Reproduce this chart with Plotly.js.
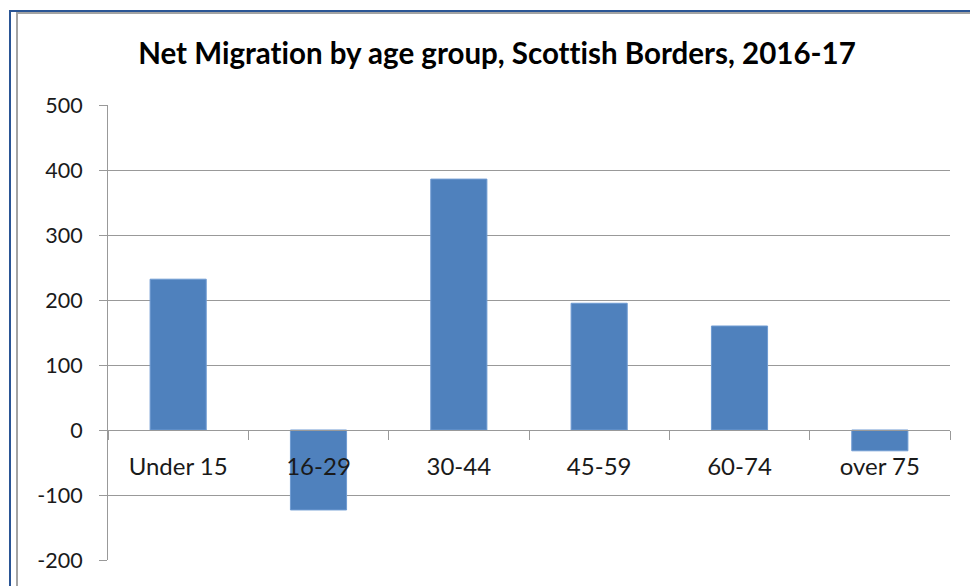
<!DOCTYPE html>
<html>
<head>
<meta charset="utf-8">
<script src="https://cdn.plot.ly/plotly-3.0.1.min.js"></script>
<style>
  html, body { margin: 0; padding: 0; background: #fff; }
  #wrap { position: relative; width: 970px; height: 586px; overflow: hidden; }
  #chart { position: absolute; left: 0; top: 0; width: 970px; height: 586px; }
  #chart svg text { font-variant-ligatures: none; font-feature-settings: "liga" 0; }
  .frame { position: absolute; pointer-events: none; }
  .blue { background: #2a5595; }
  .grey { background: #a3a3a3; }
</style>
</head>
<body>
<div id="wrap">
  <div id="chart"></div>
  <!-- window frame around the chart -->
  <div class="frame blue" style="left:9px; top:10px; width:2px; height:576px;"></div>
  <div class="frame blue" style="left:9px; top:10px; width:961px; height:2px;"></div>
  <div class="frame grey" style="left:16px; top:12px; width:2px; height:574px;"></div>
  <div class="frame grey" style="left:16px; top:12px; width:954px; height:2px;"></div>
</div>
<script>
// Net migration per age band
const ageGroups = ['Under 15', '16-29', '30-44', '45-59', '60-74', 'over 75'];
const netMigration = [232, -123, 386, 195, 160, -32];
const yTickValues = [-200, -100, 0, 100, 200, 300, 400, 500];
const yTickLabels = ['-200', '-100', '0', '100', '200', '300', '400', '500'];

const fontFace = 'Lato, "Open Sans", sans-serif';
const axisGrey = '#999999';

const trace = {
  type: 'bar',
  x: ageGroups,
  y: netMigration,
  marker: { color: '#4f81bd', line: { color: '#6f9bd2', width: 1 } },
  hoverinfo: 'x+y'
};

const layout = {
  width: 970,
  height: 586,
  margin: { l: 108, r: 20, t: 105, b: 26, pad: 0 },
  paper_bgcolor: '#ffffff',
  plot_bgcolor: '#ffffff',
  showlegend: false,
  bargap: 0.6,
  font: { family: fontFace, color: '#1a1a1a', size: 21 },
  title: {
    text: 'Net Migration by age group, Scottish Borders, 2016-17',
    font: { family: fontFace, size: 29.5, color: '#000', weight: 'bold' },
    xref: 'container', x: 497 / 970, xanchor: 'center',
    yref: 'container', y: 1 - 54 / 586, yanchor: 'middle'
  },
  xaxis: {
    type: 'category',
    anchor: 'free',
    position: 200 / 700,
    showgrid: false,
    zeroline: false,
    showline: true,
    linecolor: axisGrey,
    linewidth: 1,
    ticks: 'outside',
    tickson: 'boundaries',
    ticklen: 9,
    tickcolor: axisGrey,
    tickwidth: 1,
    ticklabelstandoff: 15,
    tickfont: { family: fontFace, size: 24, color: '#1a1a1a' },
    fixedrange: true
  },
  yaxis: {
    range: [-200, 500],
    tickvals: yTickValues,
    ticktext: yTickLabels,
    showgrid: true,
    gridcolor: axisGrey,
    gridwidth: 1,
    zeroline: false,
    showline: true,
    linecolor: axisGrey,
    linewidth: 1,
    ticks: 'outside',
    ticklen: 8,
    tickcolor: axisGrey,
    tickwidth: 1,
    ticklabelstandoff: 12,
    tickfont: { family: fontFace, size: 21.5, color: '#1a1a1a' },
    fixedrange: true
  }
};

Plotly.newPlot('chart', [trace], layout, { displayModeBar: false, staticPlot: true });
</script>
</body>
</html>
